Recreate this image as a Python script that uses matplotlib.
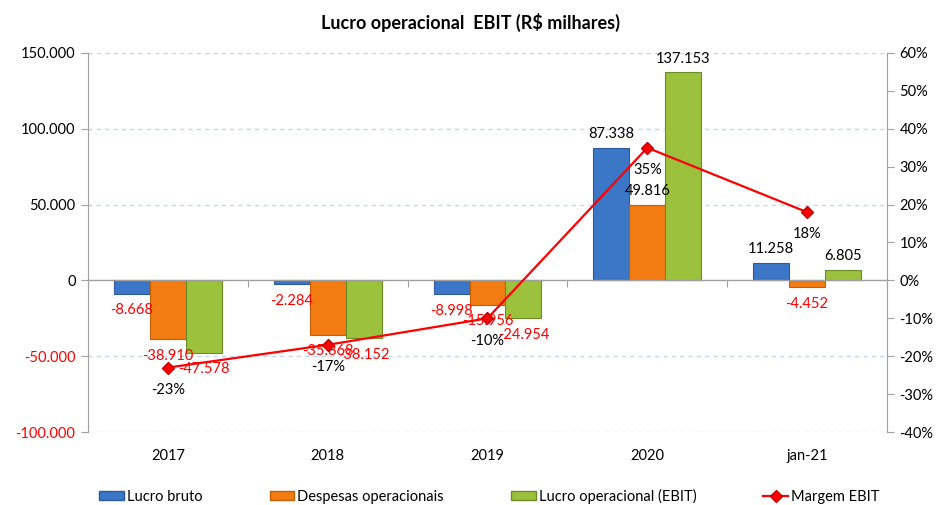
import matplotlib
matplotlib.use("Agg")
import matplotlib.pyplot as plt
import numpy as np
from matplotlib.patches import Patch
from matplotlib.lines import Line2D

plt.rcParams['font.family'] = ['Lato', 'DejaVu Sans']

categories = ["2017", "2018", "2019", "2020", "jan-21"]
lucro_bruto = [-8668, -2284, -8998, 87338, 11258]
despesas = [-38910, -35868, -15956, 49816, -4452]
ebit = [-47578, -38152, -24954, 137153, 6805]
margem = [-0.23, -0.17, -0.10, 0.35, 0.18]
margem_labels = ["-23%", "-17%", "-10%", "35%", "18%"]
series_names = ["Lucro bruto", "Despesas operacionais", "Lucro operacional (EBIT)", "Margem EBIT"]
left_ticks = [-100000, -50000, 0, 50000, 100000, 150000]
right_ticks = [-0.4, -0.3, -0.2, -0.1, 0.0, 0.1, 0.2, 0.3, 0.4, 0.5, 0.6]

colors = ["#3b77c6", "#f27b12", "#9cc13d"]
edges = ["#2b5b9c", "#c25f05", "#6b8b28"]

def fmt(v):
    return f"{v:,.0f}".replace(",", ".")

fig = plt.figure(figsize=(9.41, 5.05), dpi=100)
ax = fig.add_axes([88/941, 1-432/505, (887-88)/941, (432-53)/505])
x = np.arange(len(categories))
w = 0.225
for i, (vals, c, e) in enumerate(zip([lucro_bruto, despesas, ebit], colors, edges)):
    pos = x + (i - 1) * w
    bars = ax.bar(pos, vals, width=w, color=c, edgecolor=e, linewidth=0.8, zorder=3)
    for px, v in zip(pos, vals):
        if v < 0:
            ax.annotate(fmt(v), (px, v), xytext=(0, -12), textcoords="offset points",
                        ha="center", va="center", color="#ff0000", fontsize=10.5, zorder=5)
        else:
            ax.annotate(fmt(v), (px, v), xytext=(0, 10), textcoords="offset points",
                        ha="center", va="center", color="black", fontsize=10.5, zorder=5)

ax.set_xlim(-0.5, len(categories) - 0.5)
ax.set_ylim(-100000, 150000)
ax.set_yticks(left_ticks)
ax.set_yticklabels([fmt(t) for t in left_ticks])
for lbl, t in zip(ax.get_yticklabels(), left_ticks):
    lbl.set_color("#ff0000" if t < 0 else "black")
ax.tick_params(axis="y", direction="out", length=5, color="#a0a0a0", labelsize=10.5, pad=4)
ax.set_xticks(x)
ax.set_xticklabels(categories)
ax.tick_params(axis="x", length=0, labelsize=10.5, pad=12)
for t in [50000, 100000, 150000, -50000, -100000]:
    ax.axhline(t, color="#c5d3ee", linestyle=(0, (3, 3)), linewidth=1, zorder=1)
ax.axhline(0, color="#a0a0a0", linewidth=1, zorder=4)
for s in ["top", "right", "bottom"]:
    ax.spines[s].set_visible(False)
ax.spines["left"].set_color("#a0a0a0")

sec = ax.secondary_xaxis(0.4)
sec.set_xticks(np.arange(len(categories) + 1) - 0.5)
sec.tick_params(direction="out", length=5, color="#a0a0a0", labelbottom=False)
sec.spines["bottom"].set_visible(False)

ax2 = ax.twinx()
ax2.plot(x, margem, color="#ff0000", linewidth=1.6, marker="D", markersize=6.5,
         markerfacecolor="#ff0000", markeredgecolor="#c00000", zorder=6)
for px, v, l in zip(x, margem, margem_labels):
    ax2.annotate(l, (px, v), xytext=(0, -16), textcoords="offset points",
                 ha="center", va="center", color="black", fontsize=10.5)
ax2.set_ylim(-0.4, 0.6)
ax2.set_yticks(right_ticks)
ax2.set_yticklabels([f"{round(t*100):d}%" for t in right_ticks])
ax2.tick_params(axis="y", direction="out", length=5, color="#a0a0a0", labelsize=10.5, pad=4)
for s in ["top", "left", "bottom"]:
    ax2.spines[s].set_visible(False)
ax2.spines["right"].set_color("#a0a0a0")

fig.text(0.5, 1 - 22/505, "Lucro operacional  EBIT (R$ milhares)", ha="center", va="center",
         fontsize=13, fontweight="bold")

handles = [Patch(facecolor=c, edgecolor=e) for c, e in zip(colors, edges)]
handles.append(Line2D([0], [0], color="#ff0000", linewidth=1.6, marker="D", markersize=6.5,
                      markerfacecolor="#ff0000", markeredgecolor="#c00000"))
fig.legend(handles, series_names, loc="center", bbox_to_anchor=(0.52, 1 - 496/505), ncol=4,
           frameon=False, fontsize=10.5, handlelength=1.7, handleheight=0.6,
           handletextpad=0.2, columnspacing=4.6)

fig.savefig("out.png", dpi=100)
